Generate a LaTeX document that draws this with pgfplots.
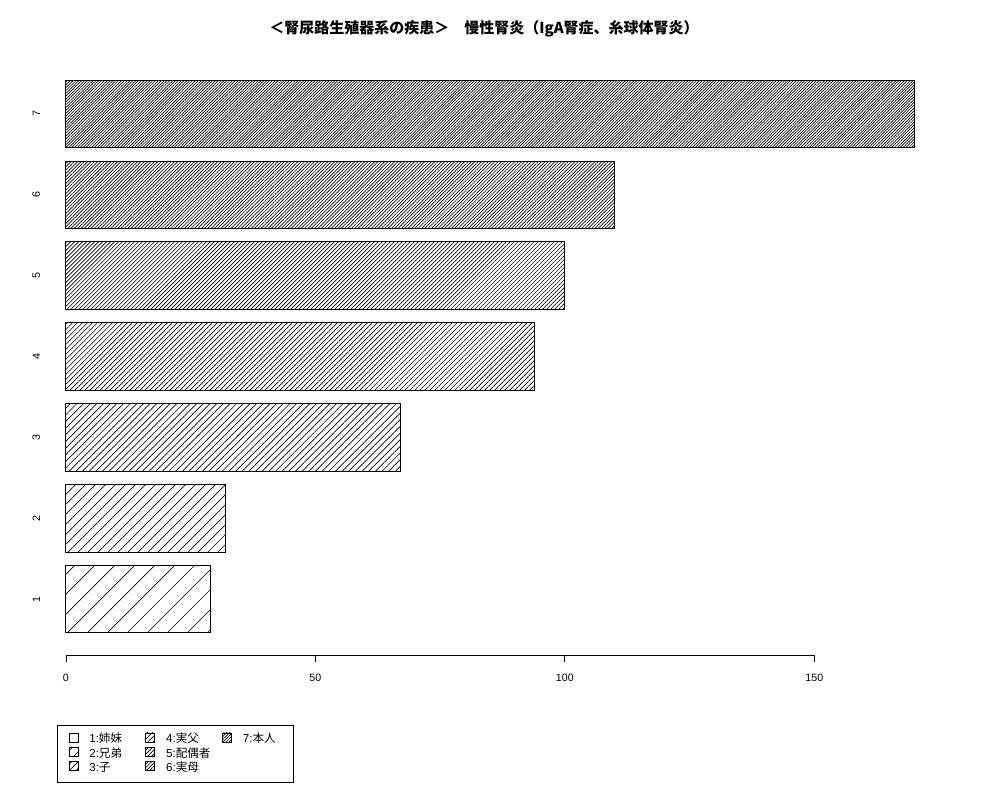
\documentclass[border=0pt]{standalone}
\usepackage{fontspec}
\setmainfont{Liberation Sans}
\newfontfamily\cjk{Noto Sans CJK JP}
\usepackage{pgfplots}
\pgfplotsset{compat=1.18}
\usetikzlibrary{patterns.meta}

% 45 degree hatching, spacing = perpendicular distance between lines
\tikzset{hatch/.style={pattern={Lines[angle=45,distance=#1,line width=0.5pt]},pattern color=black}}

\begin{document}
\begin{tikzpicture}
\useasboundingbox (-37.5pt,-108.75pt) rectangle (712.5pt,491.25pt);
\begin{axis}[
    at={(0,0)}, anchor=south west,
    scale only axis, width=674.25pt, height=447.75pt,
    xbar, bar width=0.833, bar shift=0pt,
    xmin=-3.2, xmax=177, ymin=0.31, ymax=7.69,
    axis line style={draw=none},
    xtick={0,50,100,150}, ytick={1,2,3,4,5,6,7},
    xtick pos=left, ytick pos=left,
    tick align=outside, major tick length=5.25pt,
    xtick style={black, line width=0.6pt},
    ytick style={draw=none},
    /pgf/number format/assume math mode=true,
    ticklabel style={font=\fontsize{8}{9.6}\selectfont, inner sep=0pt},
    xticklabel shift=8.5pt,
    yticklabel style={rotate=90, anchor=south},
    yticklabel shift=2pt,
    area legend,
    legend image code/.code={\draw[#1, line width=0.6pt] (0pt,-1.4pt) rectangle (6.75pt,5.35pt);},
    legend columns=3,
    legend cell align=left,
    legend style={at={(0.00779,-0.1173)}, anchor=north west,
        draw=black, line width=0.75pt,
        inner xsep=8.25pt, inner ysep=5.3pt,
        font=\fontsize{8.7}{10}\selectfont,
        nodes={inner sep=0pt, text height=7.2pt, text depth=2.9pt},
        /tikz/every odd column/.append style={column sep=8.25pt},
        /tikz/every even column/.append style={column sep=4pt}},
]
% plotted in legend order (row by row): 1 4 7 / 2 5 - / 3 6
\addplot[draw=black, line width=0.7pt, hatch=10.6pt] coordinates {(29,1)};
\addplot[draw=black, line width=0.7pt, hatch=2.65pt] coordinates {(94,4)};
\addplot[draw=black, line width=0.7pt, hatch=1.51pt] coordinates {(170,7)};
\addplot[draw=black, line width=0.7pt, hatch=5.3pt] coordinates {(32,2)};
\addplot[draw=black, line width=0.7pt, hatch=2.12pt] coordinates {(100,5)};
\addlegendimage{empty legend}
\addplot[draw=black, line width=0.7pt, hatch=3.53pt] coordinates {(67,3)};
\addplot[draw=black, line width=0.7pt, hatch=1.77pt] coordinates {(110,6)};
\draw[line width=0.6pt] (axis cs:0,0.31) -- (axis cs:150,0.31);
\legend{
  {\makebox[38pt][l]{1:{\cjk 姉妹}}},
  {\makebox[38pt][l]{4:{\cjk 実父}}},
  {\makebox[30pt][l]{7:{\cjk 本人}}},
  {\makebox[38pt][l]{2:{\cjk 兄弟}}},
  {\makebox[38pt][l]{5:{\cjk 配偶者}}},
  {\makebox[30pt]{}},
  {\makebox[38pt][l]{3:{\cjk 子}}},
  {\makebox[38pt][l]{6:{\cjk 実母}}}}
\end{axis}
\node[font=\cjk\bfseries\fontsize{11.25}{13}\selectfont] at (325.5pt,469.5pt)
  {＜腎尿路生殖器系の疾患＞　慢性腎炎（IgA腎症、糸球体腎炎）};
\end{tikzpicture}
\end{document}
